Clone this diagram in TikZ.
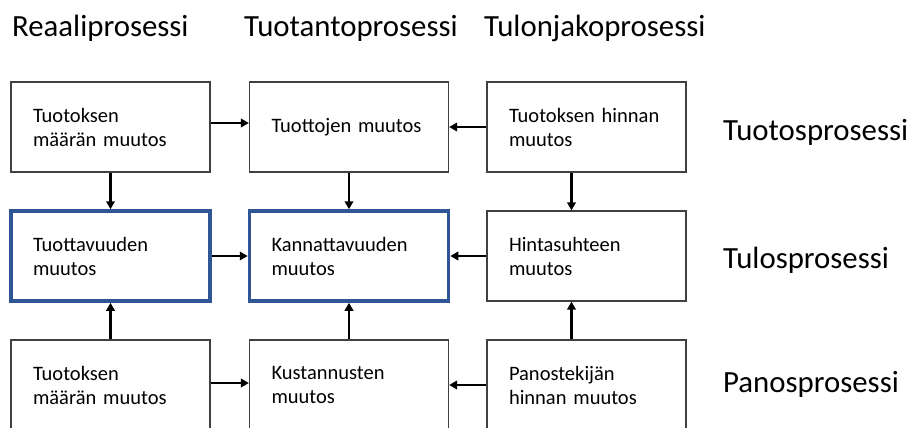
\documentclass[tikz,border=0pt]{standalone}
\usepackage{fontspec}
\setmainfont{Carlito}
\usetikzlibrary{arrows.meta}
\definecolor{boxline}{HTML}{404040}
\definecolor{keyblue}{HTML}{2F5597}
\begin{document}
\begin{tikzpicture}[x=1pt,y=-1pt,
  box/.style={draw=boxline,line width=1.2pt,rectangle,minimum width=199pt,minimum height=90pt,
    inner xsep=22pt,inner ysep=0pt,text width=155pt,align=left,
    font=\fontsize{20.5pt}{24pt}\selectfont},
  keybox/.style={box,draw=keyblue,line width=3.5pt},
  heading/.style={anchor=base west,inner sep=0pt,font=\fontsize{30.8pt}{36pt}\selectfont},
  arr/.style={line width=2.2pt,-{Triangle[length=8pt,width=8.5pt]}}]
\useasboundingbox (0,0) rectangle (910,428);
\clip (0,0) rectangle (910,428);

% column headings
\node[heading] (h1) at (12,37) {Reaaliprosessi};
\node[heading] (h2) at (244,37) {Tuotantoprosessi};
\node[heading] (h3) at (484,37) {Tulonjakoprosessi};

% row labels
\node[heading] (l1) at (723,140) {Tuotosprosessi};
\node[heading] (l2) at (723,268) {Tulosprosessi};
\node[heading] (l3) at (723,392) {Panosprosessi};

% first row
\node[box] (r1c1) at (110.5,127) {Tuotoksen\\määrän muutos};
\node[box] (r1c2) at (349,127) {Tuottojen muutos};
\node[box] (r1c3) at (586.5,127) {Tuotoksen hinnan\\muutos};

% second row
\node[keybox] (r2c1) at (110.5,256) {Tuottavuuden\\muutos};
\node[keybox] (r2c2) at (349,256) {Kannattavuuden\\muutos};
\node[box] (r2c3) at (586.5,256) {Hintasuhteen\\muutos};

% third row
\node[box] (r3c1) at (110.5,385) {Tuotoksen\\määrän muutos};
\node[box] (r3c2) at (349,385) {Kustannusten\\muutos};
\node[box] (r3c3) at (586.5,385) {Panostekijän\\hinnan muutos};

% horizontal connectors
\draw[arr] ([yshift=4pt]r1c1.east) -- ([yshift=4pt]r1c2.west);
\draw[arr] (r1c3.west) -- (r1c2.east);
\draw[arr] (r2c1.east) -- (r2c2.west);
\draw[arr] (r2c3.west) -- (r2c2.east);
\draw[arr] ([yshift=2pt]r3c1.east) -- ([yshift=2pt]r3c2.west);
\draw[arr] (r3c3.west) -- (r3c2.east);

% vertical connectors
\draw[arr] (r1c1.south) -- (r2c1.north);
\draw[arr] (r1c2.south) -- (r2c2.north);
\draw[arr] ([xshift=-15pt]r1c3.south) -- ([xshift=-15pt]r2c3.north);
\draw[arr] (r3c1.north) -- (r2c1.south);
\draw[arr] (r3c2.north) -- (r2c2.south);
\draw[arr] ([xshift=-15pt]r3c3.north) -- ([xshift=-15pt]r2c3.south);
\end{tikzpicture}
\end{document}
